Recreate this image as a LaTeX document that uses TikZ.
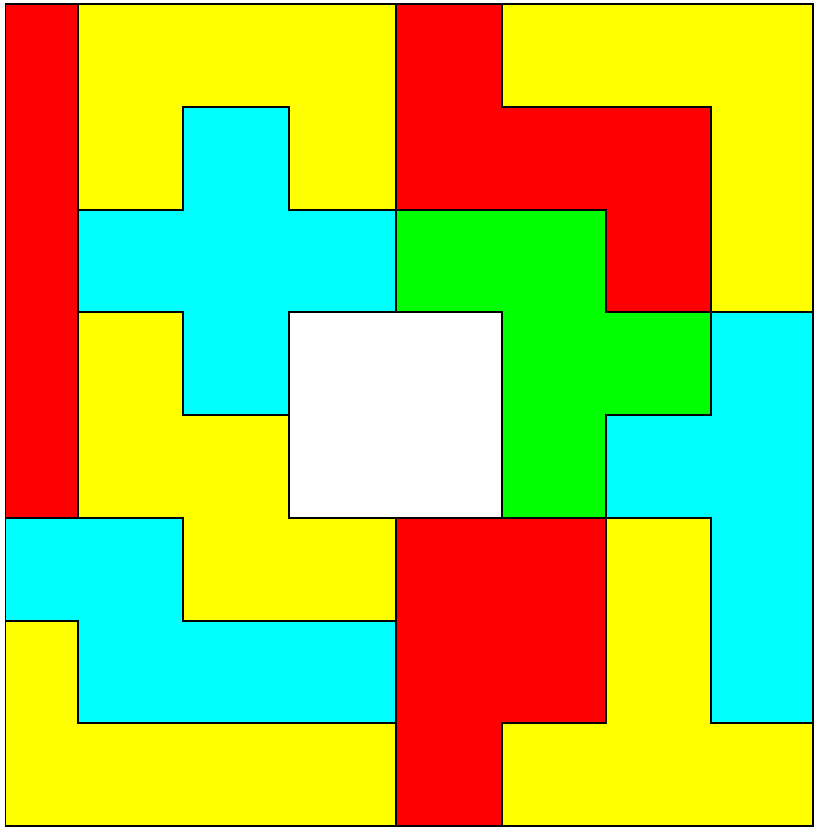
\documentclass[tikz,border=0pt]{standalone}
\definecolor{pred}{HTML}{FF0000}
\definecolor{pyellow}{HTML}{FFFF00}
\definecolor{pcyan}{HTML}{00FFFF}
\definecolor{pgreen}{HTML}{00FF00}
\tikzset{
  piece/.style={draw=black, line width=2.6pt, line join=miter},
}
\begin{document}
\begin{tikzpicture}[x=1pt,y=-1pt]
\useasboundingbox (0,0) rectangle (815,828);
\fill[white] (0,0) rectangle (815,828);
\foreach \i/\x in {0/5,1/78,2/183,3/289,4/396,5/502,6/606,7/711,8/813}{
  \foreach \j/\y in {0/4,1/107,2/210,3/312,4/415,5/518,6/621,7/723,8/826}{
    \coordinate (p\i-\j) at (\x,\y);
  }
}
% red I
\filldraw[piece, fill=pred] (p0-0) -- (p1-0) -- (p1-5) -- (p0-5) -- cycle;
% yellow U
\filldraw[piece, fill=pyellow] (p1-0) -- (p4-0) -- (p4-2) -- (p3-2) -- (p3-1) -- (p2-1) -- (p2-2) -- (p1-2) -- cycle;
% cyan X
\filldraw[piece, fill=pcyan] (p2-1) -- (p3-1) -- (p3-2) -- (p4-2) -- (p4-3) -- (p3-3) -- (p3-4) -- (p2-4) -- (p2-3) -- (p1-3) -- (p1-2) -- (p2-2) -- cycle;
% red top
\filldraw[piece, fill=pred] (p4-0) -- (p5-0) -- (p5-1) -- (p7-1) -- (p7-3) -- (p6-3) -- (p6-2) -- (p4-2) -- cycle;
% yellow V
\filldraw[piece, fill=pyellow] (p5-0) -- (p8-0) -- (p8-3) -- (p7-3) -- (p7-1) -- (p5-1) -- cycle;
% green F
\filldraw[piece, fill=pgreen] (p4-2) -- (p6-2) -- (p6-3) -- (p7-3) -- (p7-4) -- (p6-4) -- (p6-5) -- (p5-5) -- (p5-3) -- (p4-3) -- cycle;
% white hole
\filldraw[piece, fill=white] (p3-3) -- (p5-3) -- (p5-5) -- (p3-5) -- cycle;
% yellow W
\filldraw[piece, fill=pyellow] (p1-3) -- (p2-3) -- (p2-4) -- (p3-4) -- (p3-5) -- (p4-5) -- (p4-6) -- (p2-6) -- (p2-5) -- (p1-5) -- cycle;
% cyan Y
\filldraw[piece, fill=pcyan] (p7-3) -- (p8-3) -- (p8-7) -- (p7-7) -- (p7-5) -- (p6-5) -- (p6-4) -- (p7-4) -- cycle;
% cyan N
\filldraw[piece, fill=pcyan] (p0-5) -- (p2-5) -- (p2-6) -- (p4-6) -- (p4-7) -- (p1-7) -- (p1-6) -- (p0-6) -- cycle;
% yellow L
\filldraw[piece, fill=pyellow] (p0-6) -- (p1-6) -- (p1-7) -- (p4-7) -- (p4-8) -- (p0-8) -- cycle;
% red P
\filldraw[piece, fill=pred] (p4-5) -- (p6-5) -- (p6-7) -- (p5-7) -- (p5-8) -- (p4-8) -- cycle;
% yellow T
\filldraw[piece, fill=pyellow] (p6-5) -- (p7-5) -- (p7-7) -- (p8-7) -- (p8-8) -- (p5-8) -- (p5-7) -- (p6-7) -- cycle;
% left margin has no border line
\fill[white] (0,0) rectangle (5.2,828);
\end{tikzpicture}
\end{document}
